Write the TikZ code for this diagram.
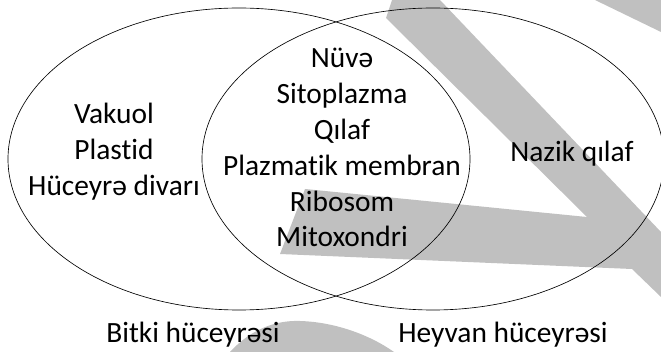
\documentclass[tikz,border=0pt]{standalone}
\usepackage{fontspec}
\usetikzlibrary{shapes.geometric}
\setmainfont{Carlito}[Ligatures=NoCommon]
\definecolor{wmgray}{HTML}{C0C0C0}
\begin{document}
\begin{tikzpicture}[x=1pt,y=-1pt,
  lbl/.style={anchor=base,inner sep=0pt,font=\fontsize{29.4}{35.8}\selectfont},
  setline/.style={draw=black,line width=0.65pt},
  wm/.style={fill=wmgray,draw=none}]
\useasboundingbox (0,0) rectangle (661,352);
% watermark shapes (behind)
\fill[wm] (392,0) -- (440,0) -- (661,232) -- (661,297) -- (632,269) -- (280,254)
  -- (305,189) -- (587,217) -- (386,18) -- cycle;
\fill[wm] (595,0) -- (661,0) -- (661,32) -- cycle;
\fill[wm] (230,352) .. controls (250,330) and (275,320) .. (300,321)
  .. controls (335,322) and (370,335) .. (394,352) -- cycle;
% sets
\node[setline,ellipse,minimum width=462pt,minimum height=302pt,inner sep=0pt] (plant) at (239,159) {};
\node[setline,ellipse,minimum width=462pt,minimum height=302pt,inner sep=0pt] (animal) at (433,159) {};
% plant only
\node[lbl] (vakuol) at (114,123.5) {Vakuol};
\node[lbl] (plastid) at (114,159.3) {Plastid};
\node[lbl] (divar) at (114,195.1) {Hüceyrə divarı};
% common
\node[lbl] (nuve) at (342,68) {Nüvə};
\node[lbl] (sito) at (342,103.8) {Sitoplazma};
\node[lbl] (qilaf) at (342,139.6) {Qılaf};
\node[lbl] (plazma) at (342,175.4) {Plazmatik membran};
\node[lbl] (ribo) at (342,211.2) {Ribosom};
\node[lbl] (mito) at (342,247) {Mitoxondri};
% animal only
\node[lbl] (nazik) at (572,162) {Nazik qılaf};
% titles
\node[lbl] (bitki) at (193,343) {Bitki hüceyrəsi};
\node[lbl] (heyvan) at (503,343) {Heyvan hüceyrəsi};
\end{tikzpicture}
\end{document}
